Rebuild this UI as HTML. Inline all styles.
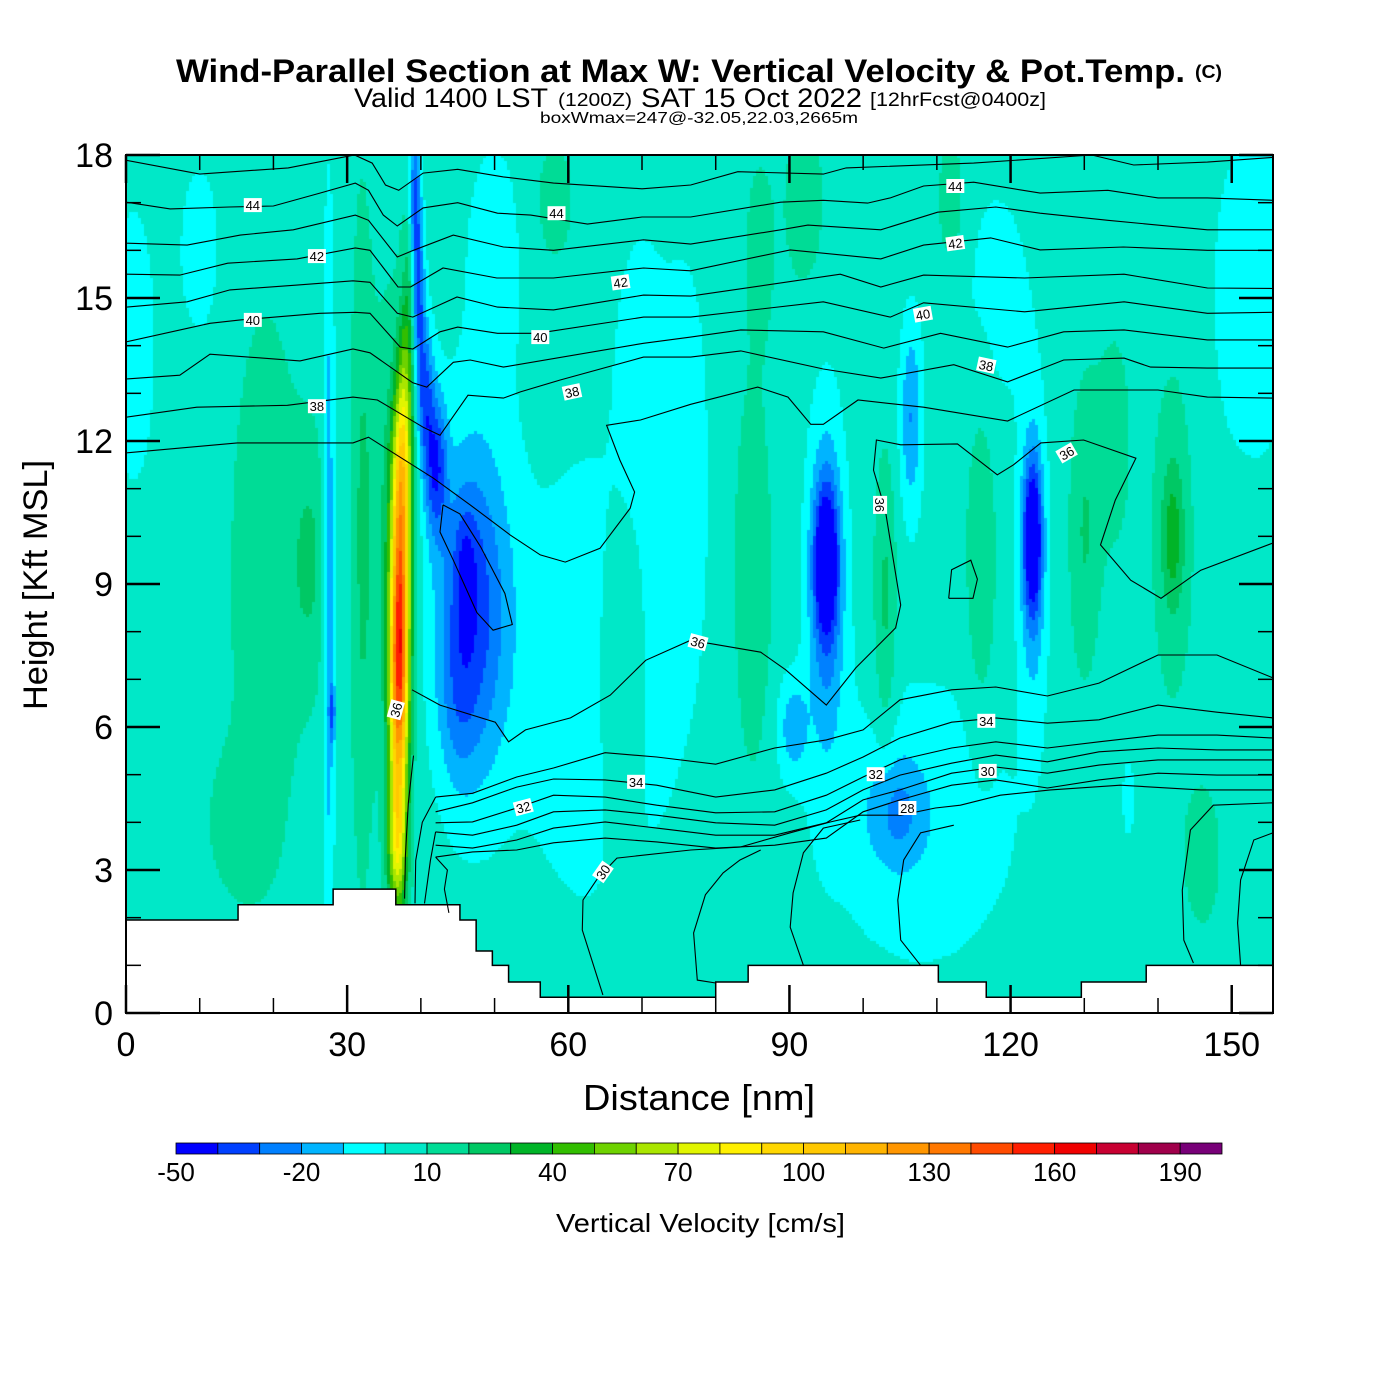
<!DOCTYPE html>
<html><head><meta charset="utf-8"><style>
html,body{margin:0;padding:0;background:#fff;}
#wrap{position:relative;width:1400px;height:1400px;overflow:hidden;background:#fff;}
#field{position:absolute;left:126px;top:155px;}
#ov{position:absolute;left:0;top:0;}
text{font-family:"Liberation Sans",sans-serif;}
</style></head><body>
<div id="wrap">
<canvas id="field" width="1147" height="858"></canvas>
<svg id="ov" width="1400" height="1400" xmlns="http://www.w3.org/2000/svg">
<g>
<text x="176" y="82" font-size="32" font-weight="bold" textLength="1009" lengthAdjust="spacingAndGlyphs">Wind-Parallel Section at Max W: Vertical Velocity &amp; Pot.Temp.</text>
<text x="1195" y="78" font-size="18" font-weight="bold" textLength="27" lengthAdjust="spacingAndGlyphs">(C)</text>
<text x="354" y="107" font-size="27" textLength="194" lengthAdjust="spacingAndGlyphs">Valid 1400 LST</text>
<text x="558" y="106" font-size="18" textLength="74" lengthAdjust="spacingAndGlyphs">(1200Z)</text>
<text x="641" y="107" font-size="27" textLength="221" lengthAdjust="spacingAndGlyphs">SAT 15 Oct 2022</text>
<text x="870" y="106" font-size="19" textLength="176" lengthAdjust="spacingAndGlyphs">[12hrFcst@0400z]</text>
<text x="540" y="123" font-size="16" textLength="318" lengthAdjust="spacingAndGlyphs">boxWmax=247@-32.05,22.03,2665m</text>
</g>
<g id="terrain"></g>
<g id="contours" fill="none" stroke="#000" stroke-width="1.1"></g>
<g id="clabels"></g>
<rect x="126" y="155" width="1147" height="858" fill="none" stroke="#000" stroke-width="2"/>
<g id="ticks" stroke="#000"></g>
<g id="xlabels"></g>
<g id="ylabels"></g>
<text x="583" y="1110" font-size="36" textLength="232" lengthAdjust="spacingAndGlyphs">Distance [nm]</text>
<text x="0" y="0" font-size="34" textLength="250" lengthAdjust="spacingAndGlyphs" transform="translate(47,710) rotate(-90)">Height [Kft MSL]</text>
<g id="cbar"></g>
<g id="cblabels"></g>
<text x="556" y="1232" font-size="26" textLength="289" lengthAdjust="spacingAndGlyphs">Vertical Velocity [cm/s]</text>
</svg>
</div>
<script>
// ---------- data ----------
const colorLevels = [-50,-40,-30,-20,-10,0,10,20,30,40,50,60,70,80,90,100,110,120,130,140,150,160,170,180,190];
const levelColors = ["#0000ff","#0040ff","#0080ff","#00b4ff","#00ffff","#00e8c8","#00dc96","#00c864","#00b428","#32be00","#6ed200","#aae600","#e1f500","#fff000","#ffd700","#ffc800","#ffb400","#ff9600","#ff7800","#ff4b00","#ff1e00","#f00000","#c80032","#a0004b","#780078"];
const cbarTickValues = [-50,-20,10,40,70,100,130,160,190];
const xTicks = [0,30,60,90,120,150];
const yTicks = [0,3,6,9,12,15,18];
const baseW = 5;
// cells: [distance nm, height kft, x-spread nm, z-spread kft, amplitude cm/s]
const cellDist = [1,19,25,27.5,32,36,36.8,37,37.2,37.5,38,38.6,39.2,39.6,40.5,42,46,45,47,64,50,67,85,58,92,112,86,76,95,95,90.5,103,106.5,108,104.5,116,123,123,130,134,142,142,151,146,136,155,15,118,28,10,70];
const cellHeight = [14,9,9.5,9,10,10,3.5,6.5,9,11.5,13.5,15.5,17,15,13,11.5,9.3,6.5,8.5,7,16,7,9,17,17,17,16,12,9.5,9,6,8.5,12.5,4,4.2,9.5,10,9.5,10,12,10,10,15,3.3,4.5,15,4,15,6.3,16,14];
const cellSx = [3,5,2.5,0.8,1.5,3,1.3,1.3,1.3,1.3,1.1,1.0,0.8,0.9,1.2,1.5,1.5,2.5,5,12,5,3,2.5,3,3,2,2,3,1.6,2.5,2,1.5,1.5,15,4,2,1.2,1.8,2,3,1.5,3,4,2.5,0.7,3,4,6,0.4,3,4];
const cellSz = [3,6,2.5,7,7,5,1.5,2.5,2.5,1.8,1.5,1.5,1.5,1.5,1.5,1.5,1.3,1.8,3.5,5,3,3,4,1.5,2,1.5,2,4,1.5,3.5,1,3,2,3.5,1.2,3.5,1.5,3,3,3,1.5,4,3.5,1.5,0.7,3,1.5,3,0.6,2,3];
const cellAmp = [-12,12,15,-25,15,15,60,100,90,60,30,20,-40,-40,-35,-40,-15,-12,-40,-12,-8,15,15,10,10,12,10,-10,-50,-30,-20,18,-25,-10,-20,15,-50,-25,15,8,22,10,-10,12,-15,-10,10,-8,-30,-10,-8];
// terrain steps
const terrainEdges = [0,15.2,28.1,36.6,45.3,47.5,49.7,51.9,56.2,80,84.4,110.2,116.7,129.6,138.4,155.6];
const terrainHeights = [1.95,2.27,2.6,2.27,1.95,1.3,1.0,0.65,0.33,0.65,1.0,0.65,0.33,0.65,1.0];
// theta contours: [distance nm, height kft]
const theta1 = [[0,17.89],[10,17.6],[22,17.73],[31,18.0],[33.4,17.83],[35.2,17.37],[37,17.26],[40.3,17.62],[45,17.7],[51.2,17.54],[58,17.41],[70,17.29],[76.6,17.37],[83,17.65],[94.6,17.6],[97.7,17.73],[115,17.83],[131,18.0],[136.7,17.79],[146.7,17.85],[155.6,17.95]];
const theta2 = [[0,17.01],[6,16.87],[14,16.91],[20,16.93],[26.3,17.2],[31.1,17.41],[32.9,17.26],[34.9,16.74],[36.8,16.51],[40.3,16.89],[45,17.0],[50.4,16.78],[54.9,16.74],[62.6,16.55],[70,16.7],[76.6,16.7],[88.8,17.01],[94.6,17.05],[100.6,16.99],[103.7,17.1],[108.2,17.35],[115,17.43],[124,17.2],[133.2,17.26],[140,17.1],[146.7,17.1],[155.6,17.05]];
const theta3 = [[0,16.15],[8.3,16.11],[15.5,16.32],[22.7,16.43],[31.1,16.74],[32.9,16.63],[36.8,15.86],[39,16.0],[44.4,16.32],[51.2,16.07],[58,16.0],[70.2,16.22],[76.6,16.13],[88.8,16.43],[92.5,16.53],[102.4,16.43],[110.1,16.8],[118,16.91],[124,16.78],[133.2,16.63],[146.7,16.43],[155.6,16.43]];
const theta4 = [[0,15.5],[7.3,15.48],[13.8,15.73],[23.2,15.82],[31.1,16.05],[33.1,16.0],[36.9,15.23],[38.6,15.23],[43,15.63],[50.3,15.42],[58,15.42],[70.2,15.63],[76.6,15.57],[90.1,16.01],[102.4,15.82],[108.2,16.11],[117.3,16.26],[124,16.01],[135.3,16.07],[146.7,16.0],[155.6,16.0]];
const theta5 = [[0,14.81],[8.3,14.92],[14.1,15.17],[23.2,15.27],[30.8,15.36],[33.1,15.33],[36.8,14.68],[38.9,14.6],[44.9,15.02],[50.4,14.81],[58,14.75],[70.2,15.06],[76.6,15.04],[96.9,15.5],[102.4,15.23],[108.2,15.48],[121.9,15.42],[135.4,15.5],[146.7,15.21],[155.6,15.2]];
const theta6 = [[0,14.08],[11.4,14.47],[15.5,14.54],[26.3,14.68],[31.1,14.7],[33.1,14.68],[37.2,13.97],[38.9,13.93],[42.6,14.29],[45,14.39],[50.4,14.26],[55.8,14.26],[70.2,14.6],[76.6,14.6],[94.6,14.92],[103.7,14.6],[108.2,14.9],[121.9,14.71],[135.4,14.92],[146.7,14.68],[155.6,14.7]];
const theta7 = [[0,13.3],[7.3,13.38],[11.4,13.82],[23.6,13.68],[30.8,13.93],[33.1,13.85],[38.9,13.22],[40.8,13.13],[44.4,13.65],[46.7,13.7],[51.2,13.55],[70.2,14.05],[76.6,14.18],[83.4,14.33],[94.6,14.29],[102.8,13.95],[110.5,14.26],[119.6,13.97],[127.2,14.29],[135.4,14.33],[146.7,14.12],[155.6,14.12]];
const theta8 = [[0,12.5],[9.6,12.71],[21.9,12.75],[30.8,12.92],[34.1,12.86],[40.3,12.29],[42.6,12.12],[46.4,12.96],[51.2,12.9],[53.5,13.03],[58.9,13.28],[70.2,13.76],[76.6,13.76],[83.4,13.89],[94.6,13.51],[102.4,13.32],[112.3,13.6],[119.6,13.24],[127.2,13.7],[135.4,13.74],[139,13.55],[146.7,13.53],[155.6,13.53]];
const theta9 = [[0,11.75],[15.1,11.96],[30.8,11.96],[32.9,12.08],[41.7,11.22],[46.7,10.66],[52.1,10.03],[56.2,9.61],[59.6,9.46],[64.3,9.75],[68.4,10.59],[69,10.93],[67,11.6],[65.2,12.33],[69.8,12.44],[76.6,12.77],[85.7,13.13],[89.8,12.92],[92.9,12.35],[94.6,12.35],[99.3,12.86],[108.2,12.71],[119.6,12.42],[128.6,13.07],[140,13.07],[146.7,12.92],[155.6,12.9]];
const theta10 = [[38.8,6.78],[42.6,6.46],[50.1,6.1],[51.9,5.69],[54.2,5.94],[60.3,6.19],[65.7,6.67],[70.5,7.4],[76.6,7.82],[86.1,7.57],[89.5,7.2],[95,6.46],[99,7.24],[104.4,8.08],[105.1,8.56],[104.1,9.5],[103,10.55],[101.4,11.39],[101.8,12.02],[105.1,11.92],[112.8,11.94],[118.2,11.29],[120.4,11.5],[124.1,11.96],[129.9,12.02],[137,11.64],[134.2,10.76],[132.2,9.82],[136.3,9.08],[140.4,8.7],[145.8,9.29],[155.6,9.86]];
const theta11 = [[111.6,8.7],[112,9.3],[114.6,9.5],[115.5,9.1],[114.9,8.7],[111.6,8.7]];
const theta12 = [[43,10.66],[45.3,10.47],[48.1,9.78],[51.4,8.8],[52.4,8.15],[49.8,8.03],[47.6,8.4],[44.4,9.5],[42.6,10.09],[43,10.66]];
const bandNodes = [42,47,53,58,65,72,80,88,95,100,105,112,118,125,132,140,148,155.6];
const band1 = [4.53,4.61,4.95,5.14,5.46,5.37,5.22,5.56,5.73,5.94,6.57,6.78,6.84,6.65,6.92,7.51,7.51,7.03];
const band2 = [4.22,4.41,4.74,4.91,4.89,4.78,4.53,4.68,5.03,5.37,5.77,6.10,6.19,6.08,6.15,6.46,6.31,6.19];
const band3 = [3.99,4.01,4.30,4.57,4.53,4.36,4.20,4.22,4.57,4.95,5.31,5.56,5.69,5.56,5.69,5.83,5.83,5.77];
const band4 = [3.80,3.73,3.94,4.22,4.26,4.15,3.99,3.94,4.26,4.68,4.99,5.24,5.41,5.27,5.48,5.56,5.52,5.52];
const band5 = [3.52,3.46,3.63,3.88,4.01,3.88,3.73,3.73,3.99,4.47,4.68,5.03,5.16,5.03,5.20,5.31,5.31,5.31];
const band6 = [3.27,3.38,3.42,3.57,3.67,3.59,3.46,3.52,3.67,4.22,4.47,4.78,4.89,4.72,4.89,5.03,4.99,4.99];
const theta30 = [[64.7,0.38],[61.9,1.74],[62,2.37],[64,2.83],[66.6,3.25],[76.6,3.42],[83.3,3.48],[90.1,3.78],[95.6,4.01],[99.6,4.15],[105.1,4.15],[109.8,4.30],[113.2,4.36],[118.6,4.57],[125.4,4.68],[134.9,4.78],[145.8,4.68],[155.6,4.68]];
const vert1 = [[86.1,3.42],[83.3,3.21],[81,2.94],[78.6,2.48],[77,1.68],[77.5,0.69],[80,0.63]];
const vert2 = [[99.6,4.05],[94.6,3.88],[91.9,3.36],[90.5,2.52],[90.1,1.80],[91.9,1.0]];
const vert3 = [[112.3,3.94],[107.8,3.78],[105.5,3.21],[104.7,2.37],[105.1,1.53],[107.8,1.0]];
const vert4 = [[155.6,4.41],[147.5,4.36],[144.4,3.84],[143.3,2.58],[143.5,1.53],[144.8,1.05]];
const vert5 = [[155.6,3.78],[153,3.63],[151.2,2.79],[150.8,1.89],[151.2,1.0]];
const vert6 = [[39,5.4],[38.3,4.4],[37.9,3.3],[37.8,2.4]];
const vert7 = [[42,4.53],[40.2,4.0],[39.3,3.2],[39.2,2.3]];
const vert8 = [[42,3.8],[41.3,3.2],[40.5,2.3]];
const vert9 = [[42,3.27],[43.6,3.0],[43.2,2.6],[43.8,2.1]];
const labelDist = [17.2,58.4,112.5,25.9,67.1,112.5,17.2,56.2,108.1,25.9,60.5,116.7,127.6,102.3,77.6,36.6,69.2,116.7,53.9,101.7,64.7,116.9,106];
const labelHeight = [16.95,16.78,17.35,15.88,15.33,16.15,14.54,14.18,14.66,12.73,13.03,13.59,11.75,10.66,7.78,6.36,4.85,6.13,4.32,5.01,2.96,5.08,4.3];
const labelText = ["44","44","44","42","42","42","40","40","40","38","38","38","36","36","36","36","34","34","32","32","30","30","28"];
const labelAngle = [0,0,0,0,-8,-8,0,0,-10,0,-12,12,-30,90,15,-75,0,0,-15,0,-55,0,0];

// ---------- scales ----------
const PX0=126, PX1=1273, PY0=1013, PY1=155;
const XMAX=155.6, ZMAX=18;
function X(d){return PX0 + d*(PX1-PX0)/XMAX;}
function Y(k){return PY0 - k*(PY0-PY1)/ZMAX;}
const NS="http://www.w3.org/2000/svg";
function mk(tag, attrs, parent){const e=document.createElementNS(NS,tag);for(const k in attrs)e.setAttribute(k,attrs[k]);parent.appendChild(e);return e;}

// ---------- field ----------
const cv=document.getElementById('field'), ctx=cv.getContext('2d');
const W=cv.width, H=cv.height, STEP=3;
function wAt(d,k){
  let w=baseW;
  for(let i=0;i<cellDist.length;i++){
    const dx=(d-cellDist[i])/cellSx[i], dz=(k-cellHeight[i])/cellSz[i];
    const q=dx*dx+dz*dz; if(q<9) w+=cellAmp[i]*Math.exp(-q);
  }
  return w;
}
for(let py=0;py<H;py+=STEP){
  for(let px=0;px<W;px+=STEP){
    const d=(px+STEP/2)*XMAX/W, k=(H-py-STEP/2)*ZMAX/H;
    let b=Math.floor((wAt(d,k)+50)/10); if(b<0)b=0; if(b>24)b=24;
    ctx.fillStyle=levelColors[b]; ctx.fillRect(px,py,STEP,STEP);
  }
}

// ---------- terrain ----------
const tg=document.getElementById('terrain');
let tp='M'+X(0)+','+Y(0);
for(let i=0;i<terrainHeights.length;i++){tp+=' L'+X(terrainEdges[i])+','+Y(terrainHeights[i])+' L'+X(terrainEdges[i+1])+','+Y(terrainHeights[i]);}
tp+=' L'+X(XMAX)+','+Y(0)+' Z';
const terr=mk('path',{d:tp,fill:'#fff',stroke:'#000','stroke-width':'1.5'},tg);



// ---------- contours ----------
const cg=document.getElementById('contours');
function drawLine(pts,name){
  const p=mk('polyline',{points:pts.map(q=>X(q[0]).toFixed(1)+','+Y(q[1]).toFixed(1)).join(' ')},cg);
  
  
}
const thetaLines=[theta1,theta2,theta3,theta4,theta5,theta6,theta7,theta8,theta9,theta10,theta11,theta12,theta30,vert1,vert2,vert3,vert4,vert5,vert6,vert7,vert8,vert9];
thetaLines.forEach((l,i)=>drawLine(l,'theta-contour-'+(i+1)));
const bands=[band1,band2,band3,band4,band5,band6];
bands.forEach((b,i)=>drawLine(bandNodes.map((n,j)=>[n,b[j]]),'theta-band-contour-'+(i+1)));

// ---------- contour labels ----------
const lg=document.getElementById('clabels');
for(let i=0;i<labelText.length;i++){
  const g=mk('g',{transform:'translate('+X(labelDist[i]).toFixed(1)+','+Y(labelHeight[i]).toFixed(1)+') rotate('+labelAngle[i]+')'},lg);
  
  
  mk('rect',{x:-9,y:-7,width:18,height:14,fill:'#fff'},g);
  const t=mk('text',{x:0,y:5,'font-size':'13','text-anchor':'middle',fill:'#000'},g);
  t.textContent=labelText[i];
}

// ---------- ticks ----------
const tk=document.getElementById('ticks');
for(let d=0; d<=XMAX; d+=10){
  const major=(d%30===0), L=major?28:15, x=X(d);
  mk('line',{x1:x,y1:PY0,x2:x,y2:PY0-L,'stroke-width':major?2.5:1.5},tk);
  mk('line',{x1:x,y1:PY1,x2:x,y2:PY1+L,'stroke-width':major?2.5:1.5},tk);
}
for(let k=0;k<=ZMAX;k++){
  const major=(k%3===0), L=major?34:15, y=Y(k);
  mk('line',{x1:PX0,y1:y,x2:PX0+L,y2:y,'stroke-width':major?2.5:1.5},tk);
  mk('line',{x1:PX1,y1:y,x2:PX1-L,y2:y,'stroke-width':major?2.5:1.5},tk);
}
const xl=document.getElementById('xlabels');
xTicks.forEach(v=>{
  const t=mk('text',{x:X(v),y:1056,'font-size':'34','text-anchor':'middle'},xl);
  t.textContent=String(v);
  
  
});
const yl=document.getElementById('ylabels');
yTicks.forEach(v=>{
  const t=mk('text',{x:113,y:Y(v)+12,'font-size':'34','text-anchor':'end'},yl);
  t.textContent=String(v);
  
  
});

// ---------- colorbar ----------
const cb=document.getElementById('cbar');
const CB0=176, CB1=1222, CBW=(CB1-CB0)/levelColors.length;
function CBX(v){return CB0+(v-colorLevels[0])/10*CBW;}
colorLevels.forEach((v,i)=>{
  const r=mk('rect',{x:CBX(v),y:1143,width:CBW,height:11,fill:levelColors[i],stroke:'#000','stroke-width':'0.8'},cb);
  
  
});
const cbl=document.getElementById('cblabels');
cbarTickValues.forEach(v=>{
  const t=mk('text',{x:CBX(v),y:1181,'font-size':'26','text-anchor':'middle'},cbl);
  t.textContent=String(v);
  
  
});
</script>
</body></html>
